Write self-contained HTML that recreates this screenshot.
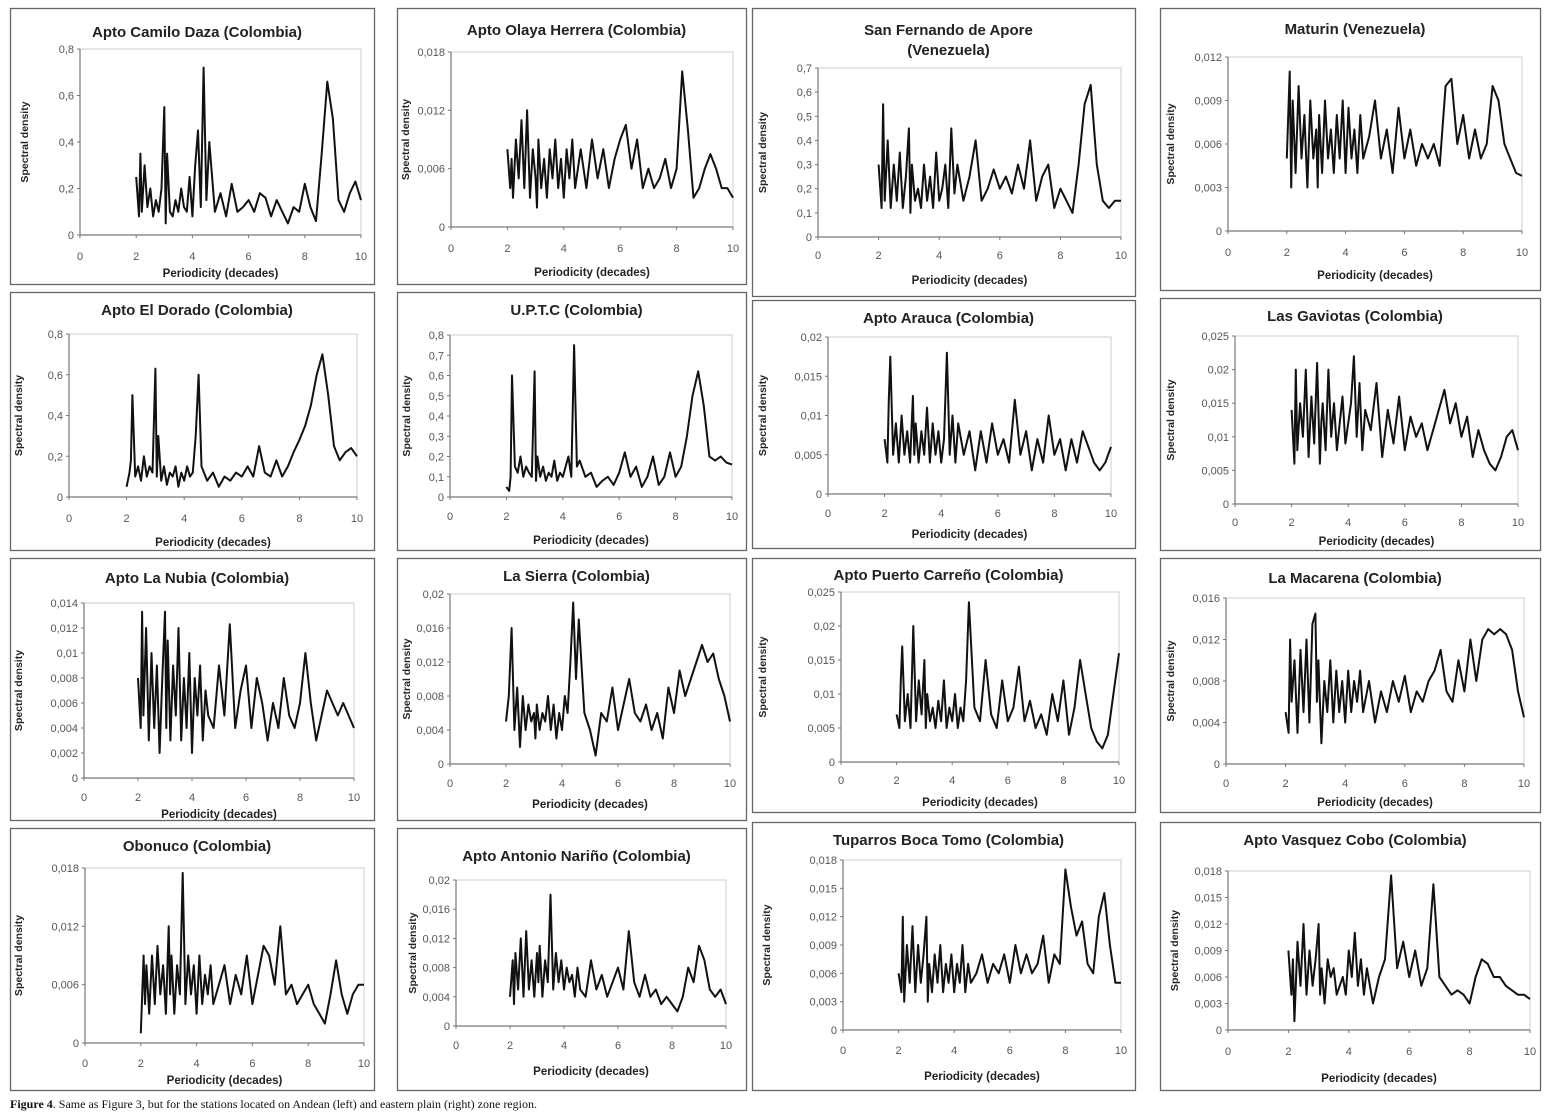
<!DOCTYPE html>
<html><head><meta charset="utf-8">
<style>
body{margin:0;background:#fff;width:1561px;height:1120px;overflow:hidden;font-family:"Liberation Sans",sans-serif}
svg{position:absolute;left:0;top:0}
</style></head>
<body>
<svg id="fig" width="1561" height="1120" viewBox="0 0 1561 1120"></svg>
<script>
const gridX=[2.0,2.1,2.15,2.2,2.3,2.4,2.5,2.6,2.7,2.8,2.9,3.0,3.05,3.1,3.2,3.3,3.4,3.5,3.6,3.7,3.8,3.9,4.0,4.1,4.2,4.3,4.4,4.5,4.6,4.8,5.0,5.2,5.4,5.6,5.8,6.0,6.2,6.4,6.6,6.8,7.0,7.2,7.4,7.6,7.8,8.0,8.2,8.4,8.6,8.8,9.0,9.2,9.4,9.6,9.8,10];
const xTicks=[0,2,4,6,8,10];
const titles=["Apto Camilo Daza (Colombia)","Apto Olaya Herrera (Colombia)","San Fernando de Apore|(Venezuela)","Maturin (Venezuela)","Apto El Dorado (Colombia)","U.P.T.C (Colombia)","Apto Arauca (Colombia)","Las Gaviotas (Colombia)","Apto La Nubia (Colombia)","La Sierra (Colombia)","Apto Puerto Carreño (Colombia)","La Macarena (Colombia)","Obonuco (Colombia)","Apto Antonio Nariño (Colombia)","Tuparros Boca Tomo (Colombia)","Apto Vasquez Cobo (Colombia)"];
const y1=[0.25,0.08,0.35,0.1,0.3,0.12,0.2,0.08,0.15,0.1,0.2,0.55,0.05,0.35,0.1,0.08,0.15,0.1,0.2,0.12,0.1,0.25,0.08,0.3,0.45,0.12,0.72,0.15,0.4,0.1,0.18,0.08,0.22,0.1,0.12,0.15,0.1,0.18,0.16,0.08,0.15,0.1,0.05,0.12,0.1,0.22,0.12,0.06,0.35,0.66,0.5,0.15,0.1,0.18,0.23,0.15];
const y2=[0.008,0.004,0.007,0.003,0.009,0.005,0.011,0.004,0.012,0.003,0.008,0.005,0.002,0.009,0.004,0.007,0.003,0.008,0.005,0.009,0.004,0.007,0.003,0.008,0.005,0.009,0.004,0.006,0.008,0.004,0.009,0.005,0.008,0.004,0.007,0.009,0.0105,0.006,0.009,0.004,0.006,0.004,0.005,0.007,0.004,0.006,0.016,0.01,0.003,0.004,0.006,0.0075,0.006,0.004,0.004,0.003];
const y3=[0.3,0.12,0.55,0.15,0.4,0.12,0.3,0.15,0.35,0.12,0.25,0.45,0.1,0.3,0.15,0.2,0.12,0.3,0.15,0.25,0.12,0.35,0.15,0.2,0.3,0.12,0.45,0.18,0.3,0.15,0.25,0.4,0.15,0.2,0.28,0.2,0.25,0.18,0.3,0.2,0.4,0.15,0.25,0.3,0.12,0.2,0.15,0.1,0.3,0.55,0.63,0.3,0.15,0.12,0.15,0.15];
const y4=[0.005,0.011,0.003,0.009,0.004,0.01,0.005,0.008,0.003,0.009,0.005,0.007,0.003,0.008,0.004,0.009,0.005,0.007,0.004,0.008,0.005,0.009,0.004,0.0085,0.005,0.007,0.004,0.008,0.005,0.0065,0.009,0.005,0.007,0.004,0.0085,0.005,0.007,0.0045,0.006,0.005,0.006,0.0045,0.01,0.0105,0.006,0.008,0.005,0.007,0.005,0.006,0.01,0.009,0.006,0.005,0.004,0.0038];
const y5=[0.05,0.12,0.18,0.5,0.1,0.15,0.08,0.2,0.1,0.15,0.12,0.63,0.1,0.3,0.08,0.15,0.06,0.12,0.1,0.15,0.05,0.12,0.08,0.15,0.1,0.12,0.3,0.6,0.15,0.08,0.12,0.05,0.1,0.08,0.12,0.1,0.15,0.1,0.25,0.12,0.1,0.18,0.1,0.15,0.22,0.28,0.35,0.45,0.6,0.7,0.5,0.25,0.18,0.22,0.24,0.2];
const y6=[0.05,0.03,0.1,0.6,0.15,0.12,0.2,0.1,0.15,0.12,0.1,0.62,0.08,0.2,0.1,0.15,0.08,0.12,0.1,0.18,0.08,0.12,0.1,0.15,0.2,0.1,0.75,0.15,0.18,0.1,0.12,0.05,0.08,0.1,0.06,0.12,0.22,0.1,0.15,0.05,0.1,0.2,0.06,0.1,0.22,0.1,0.15,0.3,0.5,0.62,0.45,0.2,0.18,0.2,0.17,0.16];
const y7=[0.007,0.004,0.012,0.0175,0.005,0.009,0.004,0.01,0.005,0.008,0.004,0.0125,0.005,0.009,0.004,0.008,0.005,0.011,0.004,0.009,0.005,0.008,0.004,0.007,0.018,0.005,0.01,0.004,0.009,0.005,0.008,0.003,0.008,0.004,0.009,0.005,0.007,0.004,0.012,0.005,0.008,0.003,0.007,0.004,0.01,0.005,0.007,0.003,0.007,0.004,0.008,0.006,0.004,0.003,0.004,0.006];
const y8=[0.014,0.006,0.02,0.008,0.015,0.01,0.02,0.007,0.016,0.009,0.021,0.006,0.012,0.015,0.008,0.02,0.01,0.015,0.008,0.012,0.016,0.009,0.012,0.015,0.022,0.01,0.018,0.008,0.014,0.011,0.018,0.007,0.014,0.009,0.016,0.008,0.013,0.01,0.012,0.008,0.011,0.014,0.017,0.012,0.015,0.01,0.013,0.007,0.011,0.008,0.006,0.005,0.007,0.01,0.011,0.008];
const y9=[0.008,0.004,0.0133,0.005,0.012,0.003,0.01,0.004,0.009,0.002,0.008,0.0133,0.004,0.011,0.003,0.009,0.005,0.012,0.003,0.008,0.004,0.01,0.002,0.008,0.005,0.009,0.003,0.007,0.005,0.004,0.009,0.005,0.0123,0.004,0.007,0.009,0.004,0.008,0.006,0.003,0.006,0.004,0.008,0.005,0.004,0.006,0.01,0.006,0.003,0.005,0.007,0.006,0.005,0.006,0.005,0.004];
const y10=[0.005,0.008,0.012,0.016,0.004,0.009,0.002,0.008,0.004,0.007,0.005,0.006,0.003,0.007,0.004,0.006,0.005,0.008,0.004,0.007,0.003,0.006,0.004,0.008,0.006,0.012,0.019,0.01,0.017,0.006,0.004,0.001,0.006,0.005,0.009,0.004,0.007,0.01,0.006,0.005,0.007,0.004,0.006,0.003,0.009,0.006,0.011,0.008,0.01,0.012,0.014,0.012,0.013,0.01,0.008,0.005];
const y11=[0.007,0.005,0.012,0.017,0.006,0.01,0.005,0.02,0.006,0.012,0.007,0.015,0.005,0.01,0.006,0.008,0.005,0.009,0.006,0.012,0.005,0.008,0.006,0.01,0.005,0.008,0.006,0.012,0.0235,0.008,0.006,0.015,0.007,0.005,0.012,0.006,0.008,0.014,0.006,0.009,0.005,0.007,0.004,0.01,0.006,0.012,0.004,0.008,0.015,0.01,0.005,0.003,0.002,0.004,0.01,0.016];
const y12=[0.005,0.003,0.012,0.006,0.01,0.003,0.011,0.005,0.012,0.004,0.0135,0.0145,0.006,0.01,0.002,0.008,0.005,0.01,0.004,0.009,0.005,0.008,0.004,0.009,0.005,0.008,0.006,0.009,0.005,0.008,0.004,0.007,0.005,0.008,0.006,0.0085,0.005,0.007,0.006,0.008,0.009,0.011,0.007,0.006,0.01,0.007,0.012,0.008,0.012,0.013,0.0125,0.013,0.0125,0.011,0.007,0.0045];
const y13=[0.001,0.009,0.004,0.008,0.003,0.009,0.004,0.01,0.005,0.008,0.003,0.012,0.005,0.009,0.003,0.008,0.005,0.0175,0.004,0.009,0.005,0.008,0.003,0.009,0.004,0.007,0.005,0.008,0.004,0.006,0.008,0.004,0.007,0.005,0.009,0.004,0.007,0.01,0.009,0.006,0.012,0.005,0.006,0.004,0.005,0.006,0.004,0.003,0.002,0.005,0.0085,0.005,0.003,0.005,0.006,0.006];
const y14=[0.004,0.009,0.003,0.01,0.005,0.012,0.004,0.013,0.005,0.009,0.004,0.01,0.006,0.011,0.004,0.009,0.006,0.018,0.005,0.01,0.006,0.009,0.005,0.008,0.006,0.007,0.004,0.008,0.005,0.004,0.009,0.005,0.007,0.004,0.006,0.008,0.005,0.013,0.006,0.004,0.007,0.004,0.005,0.003,0.004,0.003,0.002,0.004,0.008,0.006,0.011,0.009,0.005,0.004,0.005,0.003];
const y15=[0.006,0.004,0.012,0.003,0.009,0.005,0.011,0.004,0.009,0.005,0.008,0.012,0.003,0.007,0.004,0.008,0.005,0.009,0.004,0.007,0.005,0.008,0.004,0.007,0.005,0.009,0.004,0.007,0.005,0.006,0.008,0.005,0.007,0.006,0.008,0.005,0.009,0.006,0.008,0.006,0.007,0.01,0.005,0.008,0.007,0.017,0.013,0.01,0.0115,0.007,0.006,0.012,0.0145,0.009,0.005,0.005];
const y16=[0.009,0.004,0.008,0.001,0.01,0.005,0.012,0.004,0.009,0.005,0.008,0.012,0.004,0.007,0.003,0.008,0.006,0.007,0.004,0.005,0.006,0.004,0.009,0.006,0.011,0.005,0.008,0.004,0.007,0.003,0.006,0.008,0.0175,0.007,0.01,0.006,0.009,0.005,0.007,0.0165,0.006,0.005,0.004,0.0045,0.004,0.003,0.006,0.008,0.0075,0.006,0.006,0.005,0.0045,0.004,0.004,0.0035];
const series=[y1,y2,y3,y4,y5,y6,y7,y8,y9,y10,y11,y12,y13,y14,y15,y16];
const yTicks=[[0,0.2,0.4,0.6,0.8],[0,0.006,0.012,0.018],[0,0.1,0.2,0.3,0.4,0.5,0.6,0.7],[0,0.003,0.006,0.009,0.012],[0,0.2,0.4,0.6,0.8],[0,0.1,0.2,0.3,0.4,0.5,0.6,0.7,0.8],[0,0.005,0.01,0.015,0.02],[0,0.005,0.01,0.015,0.02,0.025],[0,0.002,0.004,0.006,0.008,0.01,0.012,0.014],[0,0.004,0.008,0.012,0.016,0.02],[0,0.005,0.01,0.015,0.02,0.025],[0,0.004,0.008,0.012,0.016],[0,0.006,0.012,0.018],[0,0.004,0.008,0.012,0.016,0.02],[0,0.003,0.006,0.009,0.012,0.015,0.018],[0,0.003,0.006,0.009,0.012,0.015,0.018]];
const layout=[
[10,8,374,284,80,361,235,49,32,256,273,28],
[397,8,746,284,451,733,227,52,30,248,272,409],
[752,8,1135,296,818,1121,237,68,30,255,280,766],
[1160,8,1540,290,1228,1522,231,57,29,252,275,1174],
[10,292,374,550,69,357,497,334,310,518,542,22],
[397,292,746,550,450,732,497,335,310,516,540,410],
[752,300,1135,548,828,1111,494,337,318,513,534,766],
[1160,298,1540,550,1235,1518,504,336,316,522,541,1174],
[10,558,374,820,84,354,778,603,578,797,814,22],
[397,558,746,820,450,730,764,594,576,783,804,410],
[752,558,1135,812,841,1119,762,592,575,780,802,766],
[1160,558,1540,812,1226,1524,764,598,578,783,802,1174],
[10,828,374,1090,85,364,1043,868,846,1063,1080,22],
[397,828,746,1090,456,726,1026,880,856,1045,1071,416],
[752,822,1135,1090,843,1121,1030,860,840,1050,1076,770],
[1160,822,1540,1090,1228,1530,1030,871,840,1051,1078,1178]];
const NS="http://www.w3.org/2000/svg";
const svg=document.getElementById('fig');
function mk(tag,attrs,parent){const e=document.createElementNS(NS,tag);for(const k in attrs)e.setAttribute(k,attrs[k]);(parent||svg).appendChild(e);return e;}
function fmt(v){if(v===0)return "0";return String(+v.toFixed(4)).replace('.',',');}
series.forEach((ys,i)=>{
  const L=layout[i];const ticks=yTicks[i];const ymax=ticks[ticks.length-1];
  const g=mk('g',{});
  
  
  const box=mk('rect',{x:L[0]+0.5,y:L[1]+0.5,width:L[2]-L[0],height:L[3]-L[1],fill:'#fff',stroke:'#666','stroke-width':1.3},g);
  
  
  const sx=v=>L[4]+(L[5]-L[4])*v/10;
  const sy=v=>L[6]-(L[6]-L[7])*v/ymax;
  const pa=mk('rect',{x:L[4],y:L[7],width:L[5]-L[4],height:L[6]-L[7],fill:'none',stroke:'#ccc','stroke-width':1},g);
  
  
  const parts=titles[i].split('|');
  parts.forEach((t,k)=>{
    const tt=mk('text',{x:(L[0]+L[2])/2+5,y:L[8]+5+k*20,'text-anchor':'middle','font-size':15,'font-weight':'bold',fill:'#222'},g);
    tt.textContent=t;
    
    
  });
  mk('line',{x1:L[4],y1:L[6],x2:L[5],y2:L[6],stroke:'#777','stroke-width':1.2},g);
  mk('line',{x1:L[4],y1:L[6],x2:L[4],y2:L[7],stroke:'#777','stroke-width':1.2},g);
  ticks.forEach(v=>{
    const t=mk('text',{x:L[4]-6,y:sy(v)+4,'text-anchor':'end','font-size':11,fill:'#555'},g);
    t.textContent=fmt(v);
    
    
    mk('line',{x1:L[4]-3,y1:sy(v),x2:L[4],y2:sy(v),stroke:'#777'},g);
  });
  xTicks.forEach(v=>{
    const t=mk('text',{x:sx(v),y:L[9]+4,'text-anchor':'middle','font-size':11,fill:'#555'},g);
    t.textContent=String(v);
    
    
    mk('line',{x1:sx(v),y1:L[6],x2:sx(v),y2:L[6]+3,stroke:'#777'},g);
  });
  const xl=mk('text',{x:(L[4]+L[5])/2,y:L[10]+4,'text-anchor':'middle','font-size':11.5,'font-weight':'bold',fill:'#222'},g);
  xl.textContent='Periodicity (decades)';
  
  
  const cy=(L[6]+L[7])/2;
  const yl=mk('text',{x:L[11],y:cy,'text-anchor':'middle','font-size':10.5,'font-weight':'bold',fill:'#222',transform:'rotate(-90 '+L[11]+' '+cy+')'},g);
  yl.textContent='Spectral density';
  
  
  const n=Math.min(gridX.length,ys.length);
  let d='';
  for(let j=0;j<n;j++){d+=(j?'L':'M')+sx(gridX[j]).toFixed(1)+' '+sy(ys[j]).toFixed(1);}
  const p=mk('path',{d:d,fill:'none',stroke:'#111','stroke-width':2,'stroke-linejoin':'round'},g);
  
  
});
const cap=mk('text',{x:10,y:1108,'font-size':12,'font-family':'Liberation Serif, serif',fill:'#111'});
cap.innerHTML='<tspan font-weight="bold">Figure 4</tspan>. Same as Figure 3, but for the stations located on Andean (left) and eastern plain (right) zone region.';


</script>
</body></html>
